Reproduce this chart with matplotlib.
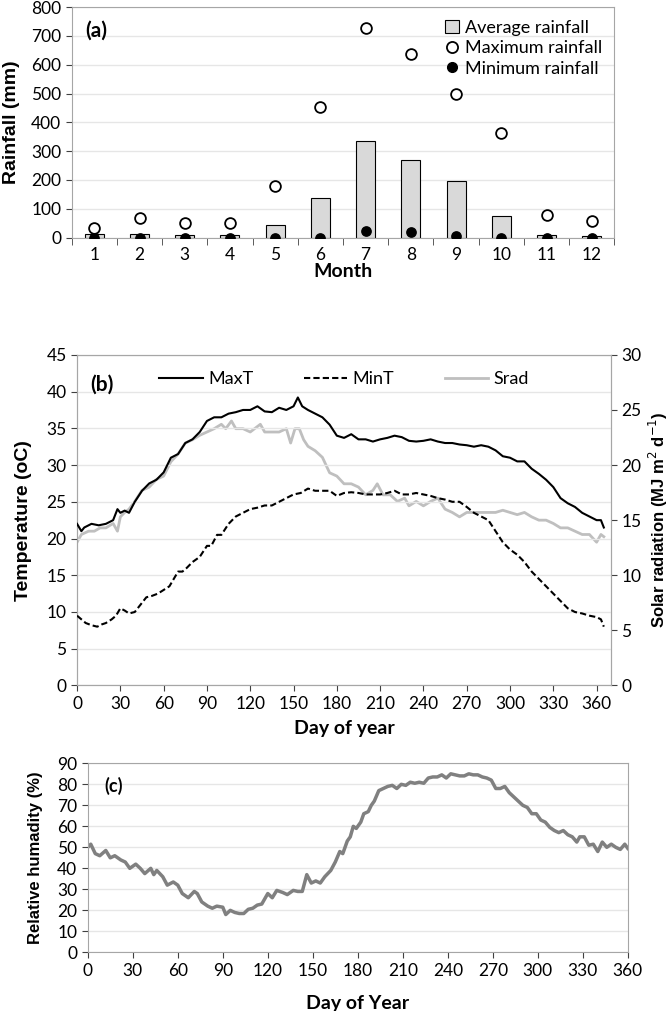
import numpy as np
import matplotlib.pyplot as plt
from matplotlib.lines import Line2D
from matplotlib.patches import Patch

# (a) monthly rainfall
months = list(range(1, 13))
avg_rain = [12, 14, 8, 10, 43, 137, 335, 268, 195, 75, 8, 5]
max_rain = [32, 67, 50, 51, 178, 452, 728, 638, 500, 362, 77, 57]
min_rain = [0, 0, 0, 0, 0, 0, 22, 20, 6, 0, 0, 0]

# (b) daily temperature and radiation
maxt_day = [0, 3, 5, 10, 15, 20, 25, 28, 30, 33, 36, 40, 45, 50, 55, 60, 65, 70, 75, 80,
            85, 90, 95, 100, 105, 110, 115, 120, 125, 130, 135, 140, 145, 150, 153, 156,
            160, 165, 170, 175, 180, 185, 190, 195, 200, 205, 210, 215, 220, 225, 230,
            235, 240, 245, 250, 255, 260, 265, 270, 275, 280, 285, 290, 295, 300, 305,
            310, 315, 320, 325, 330, 335, 340, 345, 350, 355, 360, 363, 365]
maxt = [22, 21, 21.5, 22, 21.8, 22, 22.5, 24, 23.5, 23.8, 23.5, 25, 26.5, 27.5, 28, 29,
        31, 31.5, 33, 33.5, 34.5, 36, 36.5, 36.5, 37, 37.2, 37.5, 37.5, 38, 37.3, 37.2,
        37.8, 37.5, 38, 39.2, 38, 37.5, 37, 36.5, 35.5, 34, 33.7, 34.2, 33.5, 33.5, 33.2,
        33.5, 33.7, 34, 33.8, 33.3, 33.2, 33.3, 33.5, 33.2, 33, 33, 32.8, 32.7, 32.5,
        32.7, 32.5, 32, 31.2, 31, 30.5, 30.5, 29.5, 28.8, 28, 27, 25.5, 24.8, 24.3, 23.5,
        23, 22.5, 22.5, 21.5]

mint_day = [0, 3, 6, 10, 14, 17, 20, 24, 27, 30, 33, 36, 40, 44, 48, 52, 56, 60, 64, 67,
            70, 73, 76, 80, 85, 90, 93, 97, 100, 105, 110, 115, 120, 125, 130, 135, 140,
            145, 150, 155, 160, 165, 170, 175, 180, 185, 190, 195, 200, 205, 210, 215,
            220, 225, 230, 235, 240, 245, 250, 255, 260, 265, 270, 275, 280, 285, 290,
            295, 300, 305, 310, 315, 320, 325, 330, 335, 340, 345, 350, 355, 360, 363, 365]
mint = [9.5, 9, 8.5, 8.2, 8, 8.3, 8.5, 9, 9.5, 10.5, 10.2, 9.8, 10, 11, 12, 12.2, 12.5,
        13, 13.5, 14.5, 15.5, 15.5, 16, 16.8, 17.5, 19, 19, 20.5, 20.5, 22, 23, 23.5, 24,
        24.2, 24.5, 24.5, 25, 25.5, 26, 26.2, 26.8, 26.5, 26.5, 26.5, 25.8, 26.2, 26.3,
        26.2, 26, 26, 26, 26.2, 26.5, 26, 26, 26.2, 26, 25.8, 25.5, 25.3, 25, 25, 24.3,
        23.5, 23, 22.5, 21, 19.5, 18.5, 17.8, 16.8, 15.5, 14.5, 13.5, 12.5, 11.5, 10.5,
        10, 9.8, 9.5, 9.3, 9, 8]

srad_day = [0, 3, 8, 12, 16, 20, 25, 28, 30, 33, 36, 40, 45, 50, 55, 60, 65, 70, 75, 80,
            85, 90, 95, 100, 103, 107, 110, 115, 120, 123, 127, 130, 135, 140, 145, 148,
            151, 154, 157, 160, 165, 170, 175, 180, 185, 190, 195, 200, 205, 208, 212,
            217, 222, 227, 230, 235, 240, 245, 250, 255, 260, 265, 270, 275, 280, 285,
            290, 295, 300, 305, 310, 315, 320, 325, 330, 335, 340, 345, 350, 355, 360,
            363, 365]
srad = [13.0, 13.7, 14, 14, 14.3, 14.3, 14.7, 14, 15.3, 15.7, 16, 16.7, 17.7, 18, 18.7,
        19, 20.3, 21, 22, 22.3, 22.7, 23, 23.3, 23.7, 23.3, 24, 23.3, 23.3, 23, 23.3,
        23.7, 23, 23, 23, 23.3, 22, 23.3, 23.3, 22.3, 21.7, 21.3, 20.7, 19.3, 19, 18.3,
        18.3, 18, 17.3, 17.7, 18.3, 17.3, 17.3, 16.7, 17, 16.3, 16.7, 16.3, 16.7, 17, 16,
        15.7, 15.3, 15.7, 15.7, 15.7, 15.7, 15.7, 15.9, 15.7, 15.5, 15.7, 15.3, 15, 15,
        14.7, 14.3, 14.3, 14, 13.7, 13.7, 13, 13.7, 13.5]

# (c) relative humidity
rh_day = [0, 2, 5, 8, 12, 15, 18, 22, 25, 28, 32, 35, 38, 42, 44, 46, 50, 53, 57, 60,
          63, 67, 71, 73, 76, 80, 83, 86, 90, 92, 95, 98, 101, 104, 107, 110, 113, 116,
          120, 123, 126, 130, 133, 137, 140, 143, 146, 149, 152, 155, 158, 162, 165, 168,
          170, 173, 175, 177, 179, 182, 184, 187, 189, 191, 194, 197, 200, 203, 206, 209,
          212, 215, 218, 221, 224, 227, 230, 233, 236, 239, 242, 245, 248, 251, 254, 257,
          260, 263, 266, 269, 272, 275, 278, 281, 284, 287, 290, 293, 296, 299, 302, 305,
          308, 311, 314, 317, 320, 323, 326, 328, 331, 334, 337, 340, 343, 346, 349, 352,
          355, 358, 360]
rh = [50, 51.5, 47, 46, 48.5, 45, 46, 44, 43, 40, 42, 40, 37.5, 40, 37, 39, 36, 32, 33.5,
      32, 28, 26, 29, 28, 24, 22, 21, 22, 21.5, 18, 20, 19, 18.5, 18.5, 20.5, 21, 22.5, 23,
      28, 26, 29.5, 28.5, 27.5, 29.5, 29, 29, 37, 33, 34, 33, 36, 39, 43, 48, 47, 53, 55,
      60, 59, 62, 66, 67, 70, 72, 77, 78, 79, 79.5, 78, 80, 79.5, 81, 80.5, 81, 80.5, 83,
      83.5, 83.5, 84.5, 83, 85, 84.5, 84, 84, 85, 84.5, 84.5, 83.5, 83, 82, 78, 78, 79, 76,
      74, 72, 70, 69, 66, 66, 63, 62, 59.5, 58, 57, 58, 56, 55, 52.5, 55, 55, 51, 51.5, 48,
      52.5, 50, 51.5, 50, 49, 51.5, 49.5]

grid_c = '#e6e6e6'
spine_c = '#a6a6a6'

plt.rcParams['font.family'] = ['Lato', 'DejaVu Sans']
plt.rcParams['font.size'] = 11

fig = plt.figure(figsize=(6.7, 10.11), dpi=100)


def style(ax):
    for s in ax.spines.values():
        s.set_color(spine_c)
    ax.yaxis.grid(True, color=grid_c, lw=1)
    ax.set_axisbelow(True)
    ax.tick_params(colors='#404040', labelcolor='black', length=4, labelsize=12.5)


# ---- (a)
ax1 = fig.add_axes([0.107, 0.765, 0.81, 0.228])
style(ax1)
ax1.bar(months, avg_rain, width=0.42, color='#d9d9d9', edgecolor='black', lw=0.8, zorder=2)
ax1.scatter(months, max_rain, s=60, facecolors='white', edgecolors='black', lw=1.3, zorder=3)
ax1.scatter(months, min_rain, s=45, color='black', zorder=4)
ax1.set_xlim(0.5, 12.5)
ax1.set_ylim(0, 800)
ax1.set_yticks(np.arange(0, 801, 100))
ax1.set_xticks(months)
ax1.set_xticks(np.arange(0.5, 12.6, 1), minor=True)
ax1.tick_params(axis='x', which='major', length=0, pad=7)
ax1.tick_params(axis='x', which='minor', length=5, color='#404040')
ax1.set_ylabel('Rainfall (mm)', family='Liberation Sans', fontweight='bold', fontsize=14,
               labelpad=8)
ax1.set_xlabel('Month', fontweight='bold', fontsize=14, labelpad=0)
ax1.text(0.025, 0.94, '(a)', transform=ax1.transAxes, fontweight='bold', fontsize=15,
         va='top')
h1 = [Patch(facecolor='#d9d9d9', edgecolor='black', lw=0.8),
      Line2D([], [], ls='', marker='o', ms=8, mfc='white', mec='black', mew=1.3),
      Line2D([], [], ls='', marker='o', ms=7, color='black')]
ax1.legend(h1, ['Average rainfall', 'Maximum rainfall', 'Minimum rainfall'],
           loc='upper right', frameon=False, fontsize=13, handlelength=0.8,
           handletextpad=0.3, labelspacing=0.25, borderaxespad=0.3)

# ---- (b)
ax2 = fig.add_axes([0.115, 0.322, 0.797, 0.327])
style(ax2)
ax2.plot(maxt_day, maxt, color='black', lw=1.5, label='MaxT', zorder=3)
ax2.plot(mint_day, mint, color='black', lw=1.5, ls=(0, (3, 1.5)), label='MinT', zorder=3)
ax2.set_xlim(0, 370)
ax2.set_ylim(0, 45)
ax2.set_xticks(np.arange(0, 361, 30))
ax2.set_yticks(np.arange(0, 46, 5))
ax2.set_ylabel('Temperature (oC)', family='Liberation Sans', fontweight='bold',
               fontsize=14, labelpad=10)
ax2.set_xlabel('Day of year', fontweight='bold', fontsize=14, labelpad=6)
ax2.text(0.025, 0.94, '(b)', transform=ax2.transAxes, fontweight='bold', fontsize=15,
         va='top')
ax2b = ax2.twinx()
ax2b.plot(srad_day, srad, color='#bfbfbf', lw=2, label='Srad', zorder=2)
ax2b.set_ylim(0, 30)
ax2b.set_yticks(np.arange(0, 31, 5))
for s in ax2b.spines.values():
    s.set_color(spine_c)
ax2b.tick_params(colors='#404040', labelcolor='black', length=4, labelsize=12.5)
ax2b.set_ylabel('Solar radiation (MJ m$^{2}$ d$^{-1}$)', family='Liberation Sans',
                fontweight='bold', fontsize=12, labelpad=4)
ax2.set_zorder(ax2b.get_zorder() + 1)
ax2.patch.set_visible(False)
hb = ax2.get_lines() + ax2b.get_lines()
ax2.legend(hb, [l.get_label() for l in hb], loc='upper center', ncol=3, frameon=False,
           fontsize=13, handlelength=2.4, columnspacing=2.8, handletextpad=0.3,
           bbox_to_anchor=(0.5, 1.0))

# ---- (c)
ax3 = fig.add_axes([0.131, 0.058, 0.806, 0.187])
style(ax3)
ax3.plot(rh_day, rh, color='#808080', lw=2.5)
ax3.set_xlim(0, 360)
ax3.set_ylim(0, 90)
ax3.set_xticks(np.arange(0, 361, 30))
ax3.set_yticks(np.arange(0, 91, 10))
ax3.set_ylabel('Relative humadity (%)', family='Liberation Sans', fontweight='bold',
               fontsize=12, labelpad=10)
ax3.set_xlabel('Day of Year', fontweight='bold', fontsize=14, labelpad=12)
ax3.text(0.03, 0.93, '(c)', transform=ax3.transAxes, fontweight='bold', fontsize=13,
         va='top')

fig.savefig('out.png', dpi=100)
